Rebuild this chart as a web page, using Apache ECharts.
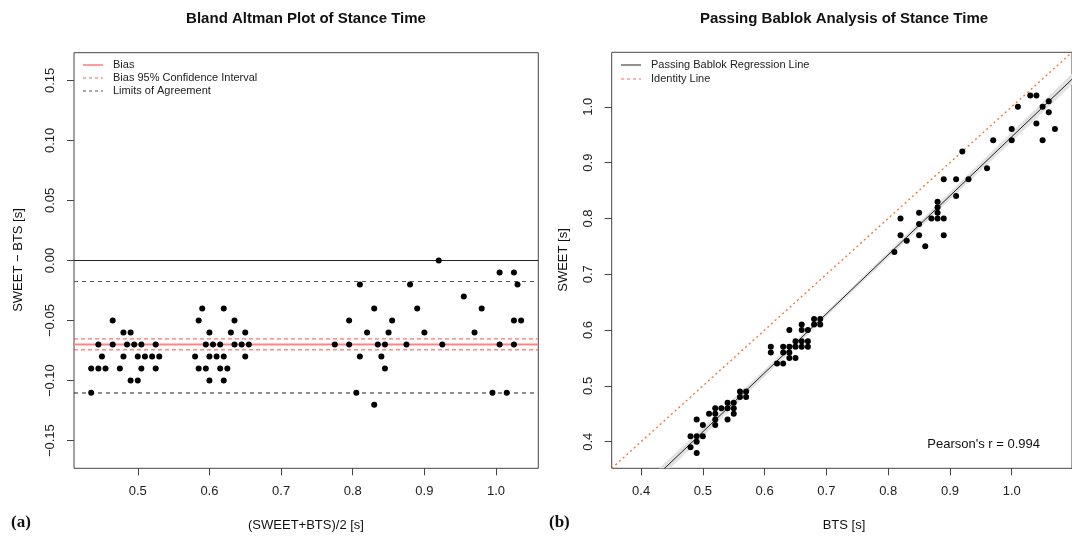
<!DOCTYPE html>
<html>
<head>
<meta charset="utf-8">
<script src="https://cdn.jsdelivr.net/npm/echarts@6/dist/echarts.min.js"></script>
<style>
  html, body { margin: 0; padding: 0; background: #fff; }
  #main { width: 1072px; height: 537px; }
</style>
</head>
<body>
<div id="main"></div>
<script>
// Bland-Altman: mean (SWEET+BTS)/2 and difference SWEET - BTS
var baMean = [
  0.435, 0.435, 0.445, 0.445, 0.45, 0.455, 0.465, 0.465, 0.475, 0.48, 0.48, 0.485,
  0.49, 0.49, 0.495, 0.5, 0.5, 0.505, 0.505, 0.51, 0.52, 0.525, 0.525, 0.53,
  0.58, 0.585, 0.585, 0.59, 0.595, 0.595, 0.6, 0.6, 0.6, 0.605, 0.61, 0.615,
  0.615, 0.62, 0.62, 0.62, 0.625, 0.63, 0.635, 0.635, 0.645, 0.65, 0.65, 0.655,
  0.775, 0.795, 0.795, 0.805, 0.81, 0.81, 0.82, 0.83, 0.83, 0.835, 0.84, 0.845,
  0.845, 0.85, 0.855, 0.875, 0.88, 0.89, 0.9, 0.92, 0.925, 0.955, 0.97, 0.98,
  0.995, 1.005, 1.005, 1.015, 1.025, 1.025, 1.025, 1.03, 1.035
];
var baDiff = [
  -0.11, -0.09, -0.07, -0.09, -0.08, -0.09, -0.05, -0.07, -0.09, -0.06, -0.08, -0.07,
  -0.06, -0.10, -0.07, -0.08, -0.10, -0.07, -0.09, -0.08, -0.08, -0.07, -0.09, -0.08,
  -0.08, -0.05, -0.09, -0.04, -0.07, -0.09, -0.06, -0.08, -0.10, -0.07, -0.08, -0.07,
  -0.09, -0.04, -0.08, -0.10, -0.09, -0.06, -0.05, -0.07, -0.07, -0.06, -0.08, -0.07,
  -0.07, -0.05, -0.07, -0.11, -0.02, -0.08, -0.06, -0.04, -0.12, -0.07, -0.08, -0.07,
  -0.09, -0.06, -0.05, -0.07, -0.02, -0.04, -0.06, 0.00, -0.07, -0.03, -0.06, -0.04,
  -0.11, -0.01, -0.07, -0.11, -0.01, -0.05, -0.07, -0.02, -0.05
];

// Passing-Bablok: BTS (x) and SWEET (y)
var bts = [
  0.49, 0.48, 0.48, 0.49, 0.49, 0.50, 0.49, 0.50, 0.52, 0.51, 0.52, 0.52,
  0.52, 0.54, 0.53, 0.54, 0.55, 0.54, 0.55, 0.55, 0.56, 0.56, 0.57, 0.57,
  0.62, 0.61, 0.63, 0.61, 0.63, 0.64, 0.63, 0.64, 0.65, 0.64, 0.65, 0.65,
  0.66, 0.64, 0.66, 0.67, 0.67, 0.66, 0.66, 0.67, 0.68, 0.68, 0.69, 0.69,
  0.81, 0.82, 0.83, 0.86, 0.82, 0.85, 0.85, 0.85, 0.89, 0.87, 0.88, 0.88,
  0.89, 0.88, 0.88, 0.91, 0.89, 0.91, 0.93, 0.92, 0.96, 0.97, 1.00, 1.00,
  1.05, 1.01, 1.04, 1.07, 1.03, 1.05, 1.06, 1.04, 1.06
];
var sweet = [
  0.38, 0.39, 0.41, 0.40, 0.41, 0.41, 0.44, 0.43, 0.43, 0.45, 0.44, 0.45,
  0.46, 0.44, 0.46, 0.46, 0.45, 0.47, 0.46, 0.47, 0.48, 0.49, 0.48, 0.49,
  0.54, 0.56, 0.54, 0.57, 0.56, 0.55, 0.57, 0.56, 0.55, 0.57, 0.57, 0.58,
  0.57, 0.60, 0.58, 0.57, 0.58, 0.60, 0.61, 0.60, 0.61, 0.62, 0.61, 0.62,
  0.74, 0.77, 0.76, 0.75, 0.80, 0.77, 0.79, 0.81, 0.77, 0.80, 0.80, 0.81,
  0.80, 0.82, 0.83, 0.84, 0.87, 0.87, 0.87, 0.92, 0.89, 0.94, 0.94, 0.96,
  0.94, 1.00, 0.97, 0.96, 1.02, 1.00, 0.99, 1.02, 1.01
];

// reference lines of panel (a)
var bias = -0.0699;
var biasCI = [-0.0653, -0.0744];
var limits = [-0.0175, -0.1103];

// regression line and its confidence band in panel (b)
var pbIntercept = -0.1106;
var pbSlope = 1.0568;
var bandX = [0.42, 0.72, 1.10];
var bandLower = [0.323, 0.646, 1.042];
var bandUpper = [0.343, 0.654, 1.062];

var baTicksX = [0.5, 0.6, 0.7, 0.8, 0.9, 1.0];
var baTicksY = [-0.15, -0.10, -0.05, 0, 0.05, 0.10, 0.15];
var pbTicks = [0.4, 0.5, 0.6, 0.7, 0.8, 0.9, 1.0];

var baXRange = [0.411, 1.059];
var baYRange = [-0.173, 0.173];
var pbRange = [0.3524, 1.0976];

var FONT = 'Liberation Sans, Arial, sans-serif';
var AXIS_COLOR = '#444';

function fmtY(v) {
  var s = Math.abs(v).toFixed(2);
  return v < -1e-9 ? '\u2212' + s : s;
}

function xAxisOf(gridIndex, range, ticks) {
  return {
    type: 'value', gridIndex: gridIndex, min: range[0], max: range[1],
    axisLine: { show: false, onZero: false },
    splitLine: { show: false },
    axisTick: { show: true, length: 7, customValues: ticks, lineStyle: { color: AXIS_COLOR } },
    axisLabel: {
      customValues: ticks, margin: 17, color: '#222', fontSize: 13, fontFamily: FONT,
      formatter: function (v) { return v.toFixed(1); }
    }
  };
}

function yAxisOf(gridIndex, range, ticks, fmt) {
  return {
    type: 'value', gridIndex: gridIndex, min: range[0], max: range[1],
    axisLine: { show: false, onZero: false },
    splitLine: { show: false },
    axisTick: { show: true, length: 7, customValues: ticks, lineStyle: { color: AXIS_COLOR } },
    axisLabel: {
      customValues: ticks, rotate: 90, margin: 17, color: '#222', fontSize: 13, fontFamily: FONT,
      formatter: fmt
    }
  };
}

// horizontal reference line across panel (a)
function hLine(y, color, type, width, z) {
  return {
    type: 'line', xAxisIndex: 0, yAxisIndex: 0, silent: true, symbol: 'none', z: z || 2,
    lineStyle: { color: color, type: type, width: width },
    data: [[baXRange[0], y], [baXRange[1], y]]
  };
}

function legendRow(x, y, label, color, dash) {
  return [
    { type: 'line', shape: { x1: x, y1: y, x2: x + 20, y2: y },
      style: { stroke: color, lineWidth: 1, lineDash: dash } },
    { type: 'text', x: x + 30, y: y,
      style: { text: label, font: '11px ' + FONT, fill: '#222', verticalAlign: 'middle' } }
  ];
}

function label(x, y, text, font, align, rotation) {
  return {
    type: 'text', x: x, y: y, rotation: rotation || 0,
    style: { text: text, font: font, fill: '#111', align: align || 'center', verticalAlign: 'middle' }
  };
}

var baPoints = baMean.map(function (m, i) { return [m, baDiff[i]]; });
var pbPoints = bts.map(function (b, i) { return [b, sweet[i]]; });

var graphics = [
  label(306, 19, 'Bland Altman Plot of Stance Time', 'bold 15px ' + FONT),
  label(844, 19, 'Passing Bablok Analysis of Stance Time', 'bold 15px ' + FONT),
  label(306, 525, '(SWEET+BTS)/2 [s]', '13px ' + FONT),
  label(844, 525, 'BTS [s]', '13px ' + FONT),
  label(18, 260, 'SWEET \u2212 BTS [s]', '13px ' + FONT, 'center', Math.PI / 2),
  label(563, 260, 'SWEET [s]', '13px ' + FONT, 'center', Math.PI / 2),
  label(11, 523, '(a)', 'bold 17px Liberation Serif, Times New Roman, serif', 'left'),
  label(549, 523, '(b)', 'bold 17px Liberation Serif, Times New Roman, serif', 'left'),
  label(1040, 444, "Pearson's r = 0.994", '13px ' + FONT, 'right')
]
  .concat(legendRow(83, 65, 'Bias', '#ff3b3b', null))
  .concat(legendRow(83, 78, 'Bias 95% Confidence Interval', '#ff5a5a', [3, 3]))
  .concat(legendRow(83, 91, 'Limits of Agreement', '#555', [3, 3]))
  .concat(legendRow(621, 65, 'Passing Bablok Regression Line', '#222', null))
  .concat(legendRow(621, 79, 'Identity Line', '#ff6a6a', [3, 3]));

var chartDom = document.getElementById('main');
var myChart = echarts.init(chartDom, null, { renderer: 'canvas' });

var option = {
  animation: false,
  backgroundColor: '#fff',
  grid: [
    { left: 74, top: 52.7, width: 464.3, height: 415.6, show: true, borderColor: AXIS_COLOR, borderWidth: 1 },
    { left: 611.7, top: 52.3, width: 464.3, height: 416, show: true, borderColor: AXIS_COLOR, borderWidth: 1 }
  ],
  xAxis: [
    xAxisOf(0, baXRange, baTicksX),
    xAxisOf(1, pbRange, pbTicks)
  ],
  yAxis: [
    yAxisOf(0, baYRange, baTicksY, fmtY),
    yAxisOf(1, pbRange, pbTicks, function (v) { return v.toFixed(1); })
  ],
  graphic: graphics,
  series: [
    hLine(0, '#222', 'solid', 1),
    hLine(bias, '#ff8585', 'solid', 2),
    hLine(biasCI[0], '#ff4d4d', [4, 3], 1, 3),
    hLine(biasCI[1], '#ff4d4d', [4, 3], 1, 3),
    hLine(limits[0], '#555', [4, 4], 1),
    hLine(limits[1], '#222', [4, 4], 1),
    {
      type: 'scatter', xAxisIndex: 0, yAxisIndex: 0,
      symbolSize: 6, itemStyle: { color: '#000', opacity: 1 }, z: 5,
      data: baPoints
    },
    {
      type: 'custom', xAxisIndex: 1, yAxisIndex: 1, clip: true, silent: true, z: 1,
      data: [[bandX[0], bandLower[0]]],
      renderItem: function (params, api) {
        var pts = [];
        for (var i = 0; i < bandX.length; i++) pts.push(api.coord([bandX[i], bandUpper[i]]));
        for (var j = bandX.length - 1; j >= 0; j--) pts.push(api.coord([bandX[j], bandLower[j]]));
        return { type: 'polygon', shape: { points: pts }, style: { fill: '#e2e2e2' } };
      }
    },
    {
      type: 'line', xAxisIndex: 1, yAxisIndex: 1, clip: true, silent: true, z: 2,
      symbol: 'none', lineStyle: { color: '#f07a3a', type: [2, 3], width: 1.4 },
      data: [[pbRange[0], pbRange[0]], [pbRange[1], pbRange[1]]]
    },
    {
      type: 'line', xAxisIndex: 1, yAxisIndex: 1, clip: true, silent: true, z: 3,
      symbol: 'none', lineStyle: { color: '#222', width: 1 },
      data: [pbRange[0], pbRange[1]].map(function (x) { return [x, pbIntercept + pbSlope * x]; })
    },
    {
      type: 'scatter', xAxisIndex: 1, yAxisIndex: 1,
      symbolSize: 6, itemStyle: { color: '#000', opacity: 1 }, z: 5,
      data: pbPoints
    }
  ]
};

option && myChart.setOption(option);
</script>
</body>
</html>
